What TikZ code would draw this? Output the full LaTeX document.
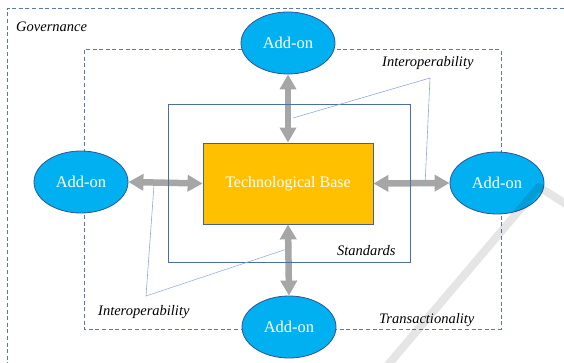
\documentclass[tikz,border=0pt]{standalone}
\usepackage{fontspec}
\setmainfont{Liberation Serif}
\usetikzlibrary{shapes.geometric,arrows.meta}
\definecolor{dashblue}{HTML}{5A78AA}
\definecolor{stdblue}{HTML}{4A6CA8}
\definecolor{ellfill}{HTML}{00B0F0}
\definecolor{ellline}{HTML}{2F5597}
\definecolor{basefill}{HTML}{FFC000}
\definecolor{baseline}{HTML}{44618F}
\definecolor{thinblue}{HTML}{8EA9DB}
\definecolor{arrowgray}{HTML}{A6A6A6}
\tikzset{
  dashedframe/.style={draw=dashblue, line width=1pt, dash pattern=on 4pt off 2.6pt},
  addon/.style={ellipse, draw=ellline, line width=0.8pt, fill=ellfill, minimum width=94pt, minimum height=62pt, inner sep=0pt, text=white, font=\fontsize{16.5}{18}\selectfont},
  basebox/.style={rectangle, draw=baseline, line width=0.8pt, fill=basefill, minimum width=170pt, minimum height=81pt, inner sep=0pt, text=white, font=\fontsize{16}{18}\selectfont},
  label/.style={anchor=base west, inner sep=0pt, font=\fontsize{14.5}{16}\selectfont\itshape},
  bigarrow/.style={draw=arrowgray, line width=6.5pt, {Triangle[length=15pt,width=16pt]}-{Triangle[length=15pt,width=16pt]}},
  callout/.style={draw=thinblue, line width=0.6pt},
}
\begin{document}
\begin{tikzpicture}[x=1pt,y=-1pt]
\useasboundingbox (0,0) rectangle (564,363);
\clip (0,0) rectangle (564,363);
% frames
\draw[dashedframe] (564,8.5) -- (7,8.5) -- (7,363);
\draw[dashedframe] (84,50) rectangle (501,329);
% nodes
\node[basebox] (base) at (288,183.5) {Technological Base};
\node[addon] (top) at (288,43) {Add-on};
\node[addon] (left) at (81,182) {Add-on};
\node[addon] (right) at (497,183) {Add-on};
\node[addon] (bottom) at (289,327) {Add-on};
% arrows
\draw[bigarrow] (base.north) -- (top.south);
\draw[bigarrow] (base.south) -- (bottom.north);
\draw[bigarrow] (left.east) -- (base.west);
\draw[bigarrow] (base.east) -- (right.west);
% standards frame
\draw[stdblue, line width=0.8pt] (168,104) rectangle (410,262);
% callouts
\coordinate (c1) at (293,118);
\coordinate (c2) at (430,78);
\coordinate (c3) at (425,186);
\coordinate (d1) at (287,249);
\coordinate (d2) at (146,296);
\coordinate (d3) at (154,185);
\draw[callout] (c1) -- (c2) -- (c3);
\draw[callout] (d1) -- (d2) -- (d3);
% labels
\node[label] (gov) at (16,32) {Governance};
\node[label] (int1) at (382,67) {Interoperability};
\node[label] (int2) at (98,315) {Interoperability};
\node[label] (std) at (337,255) {Standards};
\node[label] (tra) at (379,323) {Transactionality};
% watermark band
\draw[black, opacity=0.1, line width=8pt, line join=round] (387,366) -- (539,187) -- (566,204);
\end{tikzpicture}
\end{document}
